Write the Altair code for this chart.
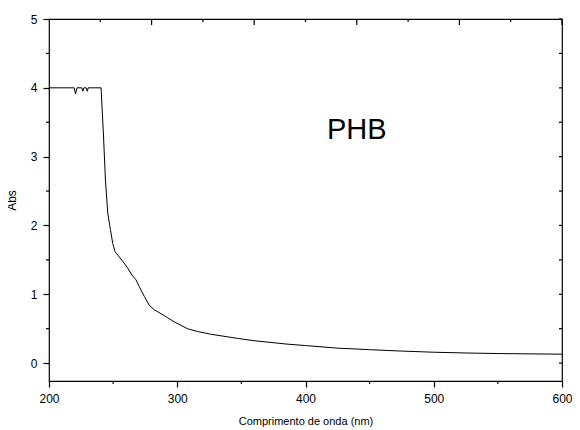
import altair as alt
import pandas as pd

# Spectrum values
wavelength = [200, 219.6, 220.7, 221.8, 225.6, 226.4, 227.2, 229.0, 229.8, 230.6, 240.6,
              242.5, 244.0, 245.8, 247.9, 249.7, 251.5, 253.6, 257.5, 261.4, 264.7,
              267.8, 270.4, 274.3, 278.2, 282.1, 287.2, 292.4, 297.6, 302.8, 307.9,
              315.7, 326.0, 336.4, 346.8, 360.0, 385.6, 400.0, 424.5, 450.0, 475.0,
              500.0, 525.0, 550.0, 575.0, 600.0]
absorb = [4.0, 4.0, 3.91, 4.0, 4.0, 3.95, 4.0, 4.0, 3.95, 4.0, 4.0,
          3.30, 2.66, 2.18, 1.94, 1.74, 1.62, 1.57, 1.48, 1.38, 1.28,
          1.21, 1.11, 0.97, 0.84, 0.775, 0.72, 0.66, 0.60, 0.55, 0.50,
          0.46, 0.42, 0.39, 0.36, 0.325, 0.276, 0.255, 0.218, 0.195, 0.175,
          0.158, 0.147, 0.139, 0.134, 0.13]

x_major = [200, 300, 400, 500, 600]
x_minor = [250, 350, 450, 550]
x_top_major = [280, 360, 440, 520, 600]
x_top_minor = [240, 320, 400, 480, 560]
y_major = [0, 1, 2, 3, 4, 5]
y_minor = [0.5, 1.5, 2.5, 3.5, 4.5]

label_text = ["PHB"]
label_x = [440]
label_y = [3.25]

W, H = 513, 362
FONT = "Liberation Sans"

df = pd.DataFrame({"nm": wavelength, "abs": absorb})
lab = pd.DataFrame({"nm": label_x, "abs": label_y, "t": label_text})

xs = alt.Scale(domain=[200, 600], nice=False, zero=False)
ys = alt.Scale(domain=[-0.26, 5], nice=False, zero=False)

x_axis = alt.Axis(values=x_major, orient="bottom", ticks=True,
                  tickSize=6, tickColor="black", tickWidth=1.2,
                  domain=False, grid=False,
                  labelFlush=False, labelPadding=6,
                  labelFont=FONT, labelFontSize=12, labelColor="black",
                  title="Comprimento de onda (nm)", titleFont=FONT,
                  titleFontSize=11, titleFontWeight="normal",
                  titleColor="black", titleY=34)
y_axis = alt.Axis(values=y_major, orient="left", ticks=True,
                  tickSize=6, tickColor="black", tickWidth=1.2,
                  domain=False, grid=False,
                  labelFlush=False, labelPadding=6,
                  labelFont=FONT, labelFontSize=12, labelColor="black",
                  title="Abs", titleFont=FONT, titleFontSize=12,
                  titleFontWeight="normal", titleColor="black",
                  titleX=-31)

main = alt.Chart(df).mark_line(color="black", strokeWidth=1).encode(
    x=alt.X("nm:Q", scale=xs, axis=x_axis),
    y=alt.Y("abs:Q", scale=ys, axis=y_axis),
)


def xticks(vals, y0, y1):
    d = pd.DataFrame({"nm": vals})
    return alt.Chart(d).mark_rule(color="black", strokeWidth=1.2).encode(
        x=alt.X("nm:Q", scale=xs, axis=x_axis),
        y=alt.value(y0), y2=alt.value(y1))


def yticks(vals, x0, x1):
    d = pd.DataFrame({"abs": vals})
    return alt.Chart(d).mark_rule(color="black", strokeWidth=1.2).encode(
        y=alt.Y("abs:Q", scale=ys, axis=y_axis),
        x=alt.value(x0), x2=alt.value(x1))


tick_layers = [
    xticks(x_minor, H, H + 3),
    xticks(x_top_major, 0, 6),
    xticks(x_top_minor, 0, 3),
    yticks(y_minor, -3, 0),
    yticks(y_major, W - 3, W),
    yticks(y_minor, W - 3, W),
]

text = alt.Chart(lab).mark_text(font=FONT, fontSize=29, color="black",
                                align="center", baseline="alphabetic").encode(
    x=alt.X("nm:Q", scale=xs, axis=x_axis),
    y=alt.Y("abs:Q", scale=ys, axis=y_axis),
    text="t:N",
)

chart = alt.layer(main, *tick_layers, text).properties(
    width=W, height=H,
    padding={"left": 41, "top": 11, "right": 10, "bottom": 49},
    autosize="none",
    background="white",
).configure_view(stroke="black", strokeWidth=1.2)

chart.save("out.html", embed_options={"renderer": "svg", "actions": False})
